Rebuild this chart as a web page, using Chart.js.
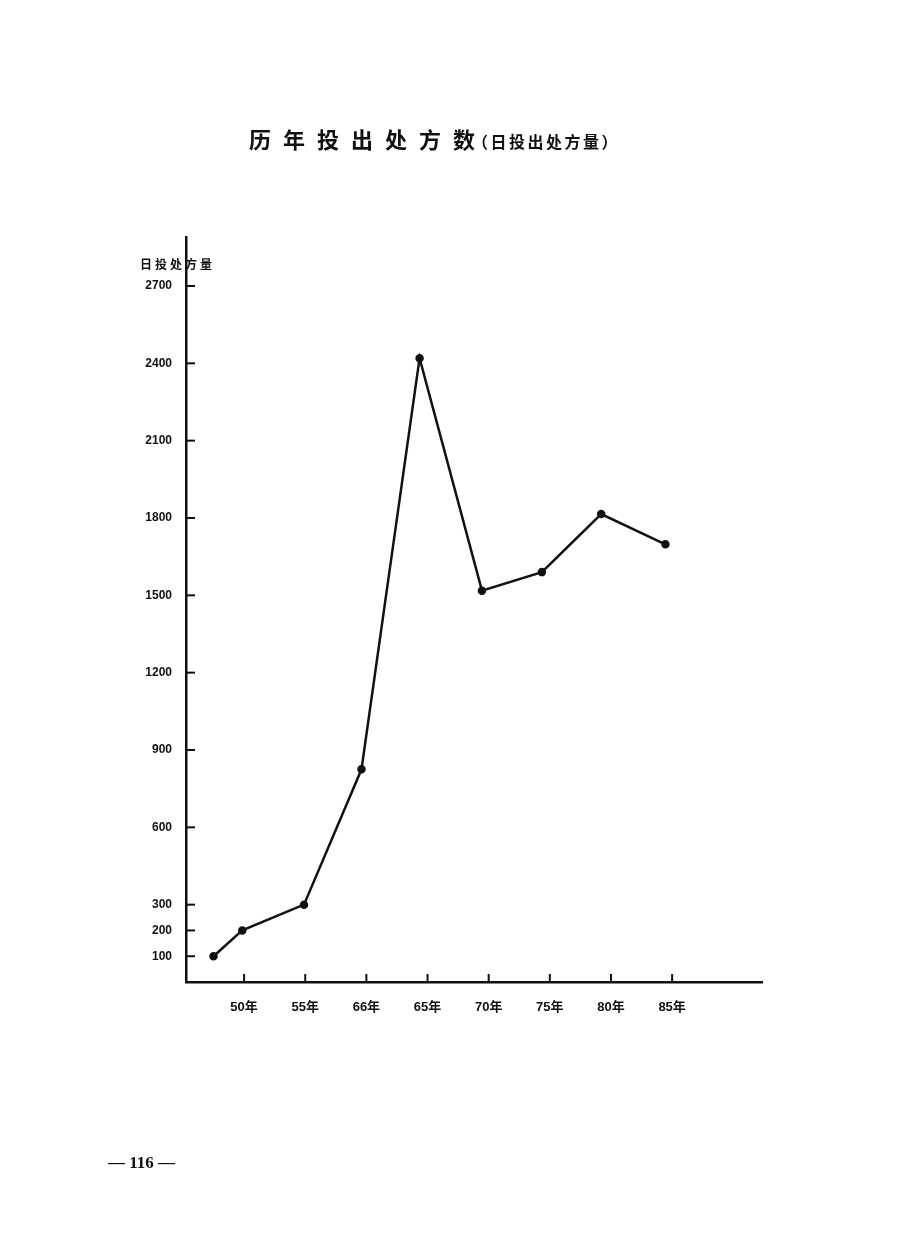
<!DOCTYPE html>
<html>
<head>
<meta charset="utf-8">
<script src="https://cdn.jsdelivr.net/npm/chart.js@4.4.0/dist/chart.umd.min.js"></script>
<style>
  body { margin: 0; background: #fff; }
  #page { position: relative; width: 900px; height: 1259px; overflow: hidden; }
  #myChart { position: absolute; left: 0; top: 0; }
  .txt { position: absolute; color: #111; font-family: "Noto Sans CJK SC", sans-serif; font-weight: bold; white-space: nowrap; }
</style>
</head>
<body>
<div id="page">
  <canvas id="myChart" width="900" height="1259"></canvas>
  <div class="txt" style="left:249px; top:122px; font-size:22px; letter-spacing:12px;">历年投出处方数</div>
  <div class="txt" style="left:472px; top:129px; font-size:16px; letter-spacing:2.5px;">（日投出处方量）</div>
  <div class="txt" style="left:140px; top:255px; font-size:12px; letter-spacing:3px;">日投处方量</div>
  <div class="txt" style="left:108px; top:1153px; font-size:17px; font-family: 'Liberation Serif', serif;">— 116 —</div>
</div>
<script>
// 横轴刻度 (按位置 1..8)
var tickLabels = ['50年', '55年', '66年', '65年', '70年', '75年', '80年', '85年'];
var yTicks = [100, 200, 300, 600, 900, 1200, 1500, 1800, 2100, 2400, 2700];

// 数据点: 横向位置 (以刻度为单位) 和 日投处方量
var xPos = [0.5, 0.97, 1.98, 2.92, 3.87, 4.89, 5.87, 6.84, 7.89];
var dailyRx = [100, 200, 300, 825, 2420, 1518, 1590, 1815, 1698];

var points = xPos.map(function (x, i) { return { x: x, y: dailyRx[i] }; });

// 刻度小短线画在轴内侧
var innerTicks = {
    id: 'innerTicks',
    afterDraw: function (chart) {
        var ctx = chart.ctx;
        var xs = chart.scales.x, ys = chart.scales.y;
        ctx.save();
        ctx.strokeStyle = '#111';
        ctx.lineWidth = 2;
        yTicks.forEach(function (v) {
            var py = ys.getPixelForValue(v);
            ctx.beginPath();
            ctx.moveTo(ys.right, py);
            ctx.lineTo(ys.right + 9, py);
            ctx.stroke();
        });
        for (var i = 1; i <= tickLabels.length; i++) {
            var px = xs.getPixelForValue(i);
            ctx.beginPath();
            ctx.moveTo(px, xs.top);
            ctx.lineTo(px, xs.top - 8);
            ctx.stroke();
        }
        ctx.restore();
    }
};

var ctx = document.getElementById('myChart').getContext('2d');
var myChart = new Chart(ctx, {
    type: 'line',
    data: {
        datasets: [{
            data: points,
            borderColor: '#111',
            backgroundColor: '#111',
            borderWidth: 2.5,
            pointRadius: 3,
            pointBackgroundColor: '#111',
            tension: 0
        }]
    },
    options: {
        responsive: false,
        animation: false,
        layout: { padding: { top: 237, right: 138, left: 0, bottom: 0 } },
        plugins: { legend: { display: false }, tooltip: { enabled: false } },
        scales: {
            x: {
                type: 'linear',
                min: 0.05,
                max: 9.47,
                afterFit: function (s) { s.height = 277; },
                afterBuildTicks: function (s) {
                    s.ticks = tickLabels.map(function (t, i) { return { value: i + 1 }; });
                },
                grid: { display: false },
                border: { display: true, color: '#111', width: 2.5 },
                ticks: {
                    autoSkip: false,
                    maxRotation: 0,
                    padding: 10,
                    color: '#111',
                    font: { family: 'Liberation Sans, Noto Sans CJK SC', size: 13, weight: 'bold' },
                    callback: function (v) { return tickLabels[Math.round(v) - 1] || ''; }
                }
            },
            y: {
                min: 0,
                max: 2890,
                afterFit: function (s) { s.width = 186; },
                afterBuildTicks: function (s) {
                    s.ticks = yTicks.map(function (v) { return { value: v }; });
                },
                grid: { display: false },
                border: { display: true, color: '#111', width: 2.5 },
                ticks: {
                    autoSkip: false,
                    padding: 6,
                    color: '#111',
                    font: { family: 'Liberation Sans', size: 12, weight: 'bold' },
                    callback: function (v) { return String(v); }
                }
            }
        }
    },
    plugins: [innerTicks]
});
</script>
</body>
</html>
